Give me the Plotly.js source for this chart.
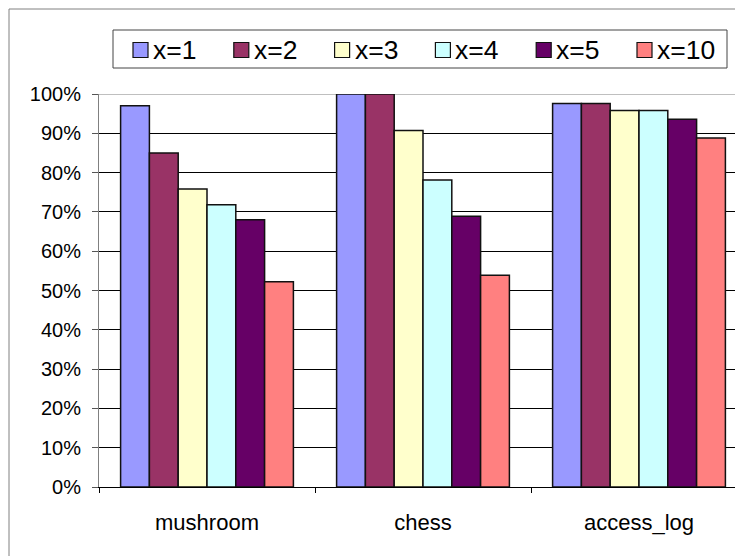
<!DOCTYPE html>
<html>
<head>
<meta charset="utf-8">
<script src="https://cdn.plot.ly/plotly-3.0.1.min.js"></script>
<style>
  html, body { margin: 0; padding: 0; background: #fff; overflow: hidden; }
  #chart { width: 735px; height: 556px; }
</style>
</head>
<body>
<div id="chart"></div>
<script>
// Datasets on the category axis
const datasets = ['mushroom', 'chess', 'access_log'];

// Share (%) per value of x, one array per series
const seriesNames = ['x=1', 'x=2', 'x=3', 'x=4', 'x=5', 'x=10'];
const x1  = [97, 100, 97.6];
const x2  = [85, 100, 97.6];
const x3  = [75.8, 90.7, 95.8];
const x4  = [71.8, 78.1, 95.8];
const x5  = [68, 68.9, 93.6];
const x10 = [52.2, 53.9, 88.8];
const seriesValues = [x1, x2, x3, x4, x5, x10];

const seriesColors = ['#9999FF', '#993366', '#FFFFCC', '#CCFFFF', '#660066', '#FF8080'];

const FONT = '"Liberation Sans", Arial, Helvetica, sans-serif';

// Plot area in page pixels
const W = 735, H = 556;
const L = 99, R = 0, T = 94, B = 69;
const plotW = W - L - R, plotH = H - T - B;
const px2x = px => (px - L) / plotW;
const px2y = py => (H - B - py) / plotH;

const traces = seriesNames.map((name, i) => ({
  type: 'bar',
  name: name,
  x: datasets,
  y: seriesValues[i],
  marker: { color: seriesColors[i], line: { color: '#111', width: 1.5 } },
  hoverinfo: 'x+y+name'
}));

const shapes = [];
const annotations = [];

// Outer chart border
shapes.push({
  type: 'rect', xref: 'paper', yref: 'paper', layer: 'below',
  x0: px2x(9), x1: px2x(W + 20), y0: px2y(9), y1: px2y(H + 20),
  line: { color: '#808080', width: 1 }, fillcolor: 'rgba(0,0,0,0)'
});

// Top edge of the plot area
shapes.push({
  type: 'line', xref: 'paper', yref: 'y', layer: 'between',
  x0: 0, x1: 1, y0: 100, y1: 100,
  line: { color: '#808080', width: 1 }
});

// Legend frame
shapes.push({
  type: 'rect', xref: 'paper', yref: 'paper', layer: 'above',
  x0: px2x(113), x1: px2x(727), y0: px2y(30), y1: px2y(68),
  line: { color: '#444', width: 1 }, fillcolor: 'rgba(0,0,0,0)'
});

// Legend entries: swatch + label
seriesNames.forEach((name, i) => {
  const textLeft = 153 + i * 100.8;
  shapes.push({
    type: 'rect', xref: 'paper', yref: 'paper', layer: 'above',
    x0: px2x(textLeft - 20), x1: px2x(textLeft - 5),
    y0: px2y(42.5), y1: px2y(57.5),
    fillcolor: seriesColors[i], line: { color: '#111', width: 1.2 }
  });
  annotations.push({
    xref: 'paper', yref: 'paper', x: px2x(textLeft - 2), y: px2y(50),
    xanchor: 'left', yanchor: 'middle', showarrow: false,
    text: name, font: { family: FONT, size: 26.5, color: '#000' }
  });
});

const layout = {
  width: W, height: H,
  margin: { l: L, r: R, t: T, b: B, pad: 0 },
  paper_bgcolor: '#fff', plot_bgcolor: '#fff',
  font: { family: FONT, color: '#000' },
  barmode: 'group', bargap: 0.2, bargroupgap: 0,
  showlegend: false,
  xaxis: {
    type: 'category',
    range: [-0.5, 2.5 - (L + 3 * 216 - W) / 216],
    tickson: 'boundaries', ticks: 'outside', ticklen: 5, tickcolor: '#000', tickwidth: 1,
    showline: true, linecolor: '#000', linewidth: 1,
    showgrid: false, zeroline: false, automargin: false,
    ticklabelstandoff: 16,
    tickfont: { family: FONT, size: 22, color: '#000' }
  },
  yaxis: {
    range: [0, 100], dtick: 10, tick0: 0, ticksuffix: '%',
    ticks: 'outside', ticklen: 6, tickcolor: '#555', tickwidth: 1,
    showline: true, linecolor: '#808080', linewidth: 1,
    showgrid: true, gridcolor: '#000', gridwidth: 1,
    zeroline: false, automargin: false,
    ticklabelstandoff: 7,
    tickfont: { family: FONT, size: 20, color: '#000' }
  },
  shapes: shapes,
  annotations: annotations
};

Plotly.newPlot('chart', traces, layout, { displayModeBar: false, staticPlot: true });
</script>
</body>
</html>
